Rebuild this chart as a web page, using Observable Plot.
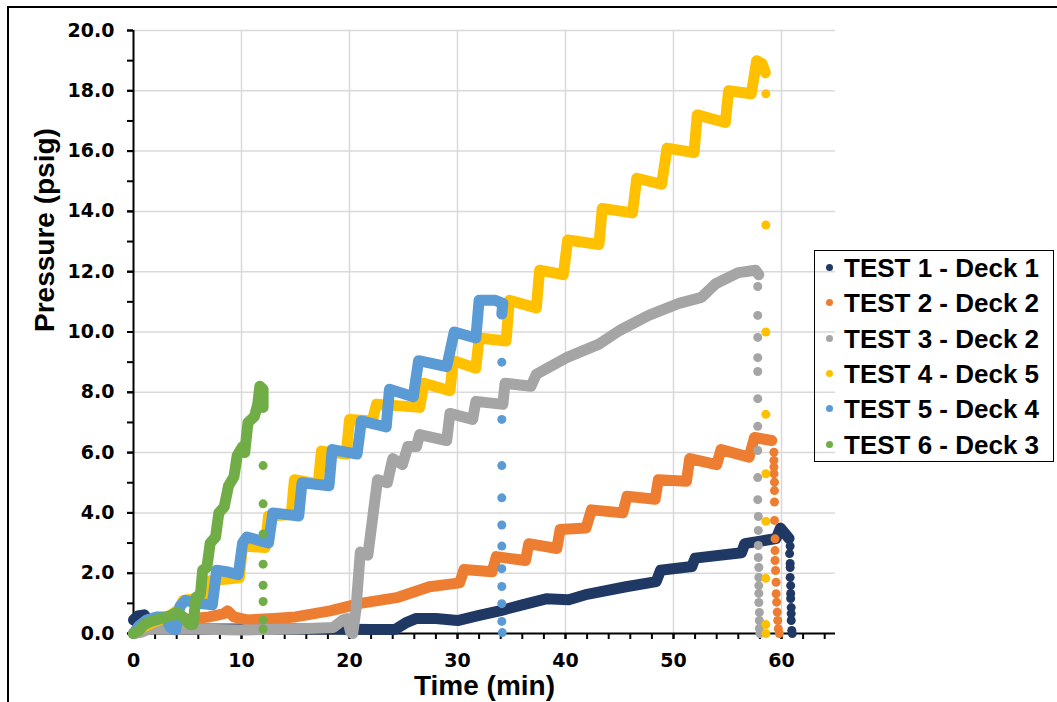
<!DOCTYPE html>
<html><head><meta charset="utf-8">
<script src="https://cdn.jsdelivr.net/npm/d3@7"></script>
<script src="https://cdn.jsdelivr.net/npm/@observablehq/plot@0.6"></script>
<style>
html,body{margin:0;padding:0;background:#fff;}
#wrap{position:relative;width:1057px;height:702px;overflow:hidden;}
#chart{position:absolute;left:0;top:0;}
#frame{position:absolute;left:7px;top:6px;width:1100px;height:800px;border-top:2px solid #000;border-left:2px solid #000;pointer-events:none;}
#legend{position:absolute;left:814px;top:250px;width:238px;height:210px;border:1.5px solid #000;font-family:"Liberation Sans",Arial,sans-serif;font-weight:bold;font-size:26px;color:#000;}
.item{position:absolute;left:0;height:30px;line-height:30px;white-space:nowrap;width:236px;}
.sw{position:absolute;left:11px;top:11px;width:7px;height:7px;border-radius:50%;}
.lab{position:absolute;left:29px;top:0;}
g[aria-label$="tick label"]{font-family:"DejaVu Sans",sans-serif;font-weight:bold;font-size:19px;}
</style>
</head><body>
<div id="wrap"><div id="chart"></div><div id="frame"></div><div id="legend"></div></div>
<script>
// ---- data: [time (min), pressure (psig)] ----
const seriesNames = ["TEST 1 - Deck 1","TEST 2 - Deck 2","TEST 3 - Deck 2","TEST 4 - Deck 5","TEST 5 - Deck 4","TEST 6 - Deck 3"];
const xTicks = [0,10,20,30,40,50,60];
const yTicks = [0,2,4,6,8,10,12,14,16,18,20];

const test1 = [[0,0.45],[0.4,0.58],[1.0,0.62],[1.4,0.4],[2.2,0.2],[6,0.15],[12,0.15],[18,0.15],[22,0.13],[24.2,0.13],[25.2,0.35],[26.2,0.5],[28,0.5],[30,0.43],[32,0.6],[34,0.76],[36,0.95],[38.2,1.15],[40.3,1.12],[42,1.3],[45.6,1.55],[48.4,1.72],[48.8,2.1],[51.7,2.22],[52.0,2.5],[56.3,2.68],[56.6,2.98],[59.5,3.15],[59.9,3.5],[60.7,3.15]];
const test1Drop = [[60.8,2.9],[60.75,2.65],[60.8,2.32],[60.8,2.19],[60.8,1.86],[60.85,1.59],[60.85,1.33],[60.85,1.16],[60.9,0.86],[60.9,0.66],[60.9,0.43],[60.95,0.1],[61.0,0]];

const test2 = [[0,0],[1,0.15],[2.5,0.3],[4,0.4],[5.5,0.5],[7,0.55],[8.3,0.65],[8.7,0.75],[9.3,0.55],[10.5,0.45],[13,0.5],[15,0.55],[18.2,0.75],[21,1.0],[24.5,1.2],[27.4,1.55],[30.2,1.68],[30.6,2.12],[33.2,2.05],[33.6,2.55],[36.3,2.42],[36.6,2.98],[39.2,2.82],[39.5,3.45],[41.9,3.5],[42.4,4.1],[45.3,4.0],[45.7,4.55],[48.3,4.45],[48.6,5.1],[51.2,5.05],[51.5,5.8],[54,5.6],[54.4,6.1],[57,5.85],[57.5,6.5],[59.1,6.4]];
const test2Drop = [[59.3,6.01],[59.3,5.74],[59.3,5.52],[59.3,5.3],[59.35,5.02],[59.35,4.74],[59.35,4.36],[59.35,3.75],[59.4,3.14],[59.4,2.75],[59.4,2.42],[59.45,2.09],[59.5,1.7],[59.5,1.32],[59.55,1.04],[59.6,0.71],[59.65,0.43],[59.7,0.16],[59.8,0]];

const test3 = [[0,0],[0.8,0.05],[1.5,0.15],[5,0.15],[10,0.12],[15,0.15],[18.5,0.2],[19.4,0.45],[19.8,0.5],[20.1,0.05],[20.3,0],[20.6,0.8],[21.0,2.7],[21.7,2.6],[22.2,4.0],[22.6,5.1],[23.5,5.0],[24,5.8],[24.9,5.6],[25.4,6.2],[26.2,6.2],[26.5,6.6],[29,6.4],[29.3,7.3],[31.4,7.1],[31.7,7.7],[34.2,7.6],[34.4,8.3],[36.8,8.2],[37.3,8.6],[40.1,9.15],[43.1,9.6],[45,10.05],[47.7,10.55],[50.5,10.95],[52.6,11.15],[53.9,11.6],[56,11.97],[57.6,12.05],[57.9,11.9]];
const test3Drop = [[57.8,11.51],[57.8,10.55],[57.8,9.82],[57.8,9.15],[57.8,8.69],[57.8,7.79],[57.8,6.87],[57.8,6.07],[57.8,5.17],[57.8,4.44],[57.85,3.88],[57.85,3.42],[57.85,2.92],[57.85,2.52],[57.9,2.19],[57.9,1.86],[57.9,1.59],[57.9,1.33],[57.9,1.03],[57.95,0.7],[57.95,0.43],[57.95,0.17],[58.0,0]];

const test4 = [[0,0],[0.8,0.2],[2,0.4],[3.2,0.55],[4.2,0.8],[4.6,1.1],[6.5,1.2],[7.1,1.75],[9.8,1.85],[10.1,2.9],[12.2,2.85],[12.5,3.9],[14.6,3.95],[14.9,5.1],[17.1,4.95],[17.4,6.05],[19.7,5.95],[20.0,7.1],[22.1,7.05],[22.5,7.6],[26.5,7.5],[26.9,8.3],[29.3,8.05],[29.6,9.05],[31.7,8.8],[32.0,9.8],[34.5,9.7],[34.8,11.05],[37.3,10.8],[37.6,12.05],[39.8,11.9],[40.2,13.05],[43.1,12.9],[43.4,14.1],[46.2,13.95],[46.6,15.1],[48.9,14.9],[49.4,16.1],[51.9,15.95],[52.2,17.2],[54.8,16.95],[55.1,18.0],[57.2,17.9],[57.7,19.0],[58.2,18.9],[58.5,18.6]];
const test4Drop = [[58.55,17.9],[58.55,13.55],[58.55,10.0],[58.55,7.27],[58.55,5.3],[58.55,3.72],[58.55,1.83],[58.55,0.3],[58.55,0]];

const test5 = [[0,0],[0.5,0.25],[1.2,0.45],[2.2,0.55],[3.0,0.55],[3.4,0.2],[3.9,0.12],[4.3,0.9],[4.8,1.1],[6,1.0],[7.3,0.95],[7.7,2.1],[8.6,2.05],[9.7,1.95],[10.1,3.0],[10.5,3.2],[12.5,3.0],[12.9,4.0],[15.3,3.9],[15.6,5.0],[18.1,4.9],[18.4,6.1],[20.7,5.95],[21.1,7.05],[23.4,6.85],[23.7,8.1],[25.9,7.85],[26.4,9.05],[29.0,8.85],[29.7,10.0],[31.7,9.8],[32.0,11.05],[33.5,11.05],[34.2,10.95],[34.1,10.6]];
const test5Drop = [[34.1,9.0],[34.1,7.1],[34.1,5.57],[34.1,4.5],[34.1,3.6],[34.1,2.9],[34.1,2.15],[34.1,1.56],[34.1,0.99],[34.1,0.4],[34.15,0.03]];

const test6 = [[0,0],[0.5,0.1],[1.0,0.3],[1.6,0.4],[2.5,0.5],[3.5,0.6],[4.0,0.7],[4.6,0.55],[5.2,0.3],[5.5,0.3],[5.8,1.2],[6.2,1.3],[6.4,2.1],[6.8,2.2],[7.1,3.0],[7.6,3.2],[7.9,4.0],[8.4,4.2],[8.8,4.9],[9.3,5.2],[9.6,5.9],[10.1,6.2],[10.3,6.0],[10.6,7.0],[11.2,7.2],[11.5,7.6],[11.7,8.2],[12.0,8.1],[12.0,7.5]];
const test6Drop = [[12.0,5.57],[12.0,4.3],[12.0,3.3],[12.0,2.3],[12.0,1.6],[12.0,1.06],[12.0,0.45],[12.0,0.15]];

// ---- styling ----
const colors = ["#1F3864","#ED7D31","#A5A5A5","#FFC000","#5B9BD5","#70AD47"];
const lines = [test1,test2,test3,test4,test5,test6];
const drops = [test1Drop,test2Drop,test3Drop,test4Drop,test5Drop,test6Drop];

const tickFont = {fontFamily: "DejaVu Sans, sans-serif", fontWeight: "bold", fontSize: 19};
const labelFont = {fontFamily: "Liberation Sans, Arial, sans-serif", fontWeight: "bold", fontSize: 28};

const marks = [
  Plot.gridX(xTicks.slice(1), {stroke: "#d9d9d9", strokeOpacity: 1, strokeWidth: 1.5}),
  Plot.gridY(yTicks.slice(1), {stroke: "#d9d9d9", strokeOpacity: 1, strokeWidth: 1.5}),
  Plot.axisX(d3.range(0, 65, 2), {tickSize: 6, strokeWidth: 2, stroke: "#000", text: null, label: null}),
  Plot.axisX(xTicks, {tickSize: 6, strokeWidth: 2, stroke: "#000", tickPadding: 14, label: null, ...tickFont, fill: "#000"}),
  Plot.axisY(d3.range(0, 21, 1), {tickSize: 6, strokeWidth: 2, stroke: "#000", text: null, label: null}),
  Plot.axisY(yTicks, {tickSize: 6, strokeWidth: 2, stroke: "#000", tickPadding: 13, tickFormat: d3.format(".1f"), label: null, ...tickFont, fill: "#000"}),
  Plot.ruleX([0], {stroke: "#000", strokeWidth: 2}),
  Plot.ruleY([0], {stroke: "#000", strokeWidth: 2})
];
lines.forEach((pts, i) => {
  const rows = pts.map(([t, p]) => ({t, p}));
  const drows = drops[i].map(([t, p]) => ({t, p}));
  marks.push(Plot.line(rows, {x: "t", y: "p", stroke: colors[i], strokeWidth: 11, strokeLinejoin: "round", strokeLinecap: "round"}));
  marks.push(Plot.dot(drows, {x: "t", y: "p", fill: colors[i], r: 4.5}));
});
marks.push(Plot.text([{label: "Time (min)"}], {text: "label", frameAnchor: "bottom", dy: 61, fill: "#000", ...labelFont}));
marks.push(Plot.text([{label: "Pressure (psig)"}], {text: "label", frameAnchor: "left", dx: -88, rotate: -90, fill: "#000", ...labelFont}));

const svg = Plot.plot({
  width: 1057, height: 702,
  marginLeft: 133, marginRight: 222, marginTop: 30, marginBottom: 69,
  x: {domain: [0, 65]},
  y: {domain: [0, 20]},
  style: {background: "transparent", fontFamily: "Liberation Sans, Arial, sans-serif", color: "#000", overflow: "visible"},
  marks
});
document.getElementById("chart").appendChild(svg);

const legend = document.getElementById("legend");
seriesNames.forEach((name, i) => {
  const it = document.createElement("div");
  it.className = "item";
  it.style.top = (1.8 + i * 35.4) + "px";
  const sw = document.createElement("div");
  sw.className = "sw";
  sw.style.background = colors[i];
  const lab = document.createElement("div");
  lab.className = "lab";
  lab.textContent = name;
  it.appendChild(sw); it.appendChild(lab);
  legend.appendChild(it);
});
</script>
</body></html>
